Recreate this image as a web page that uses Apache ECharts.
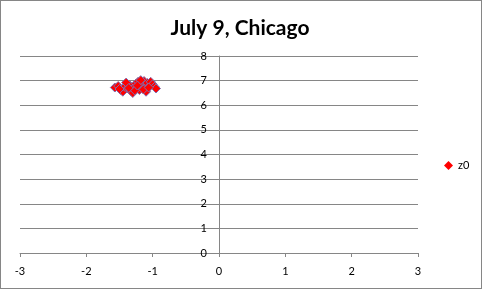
<!DOCTYPE html>
<html><head><meta charset="utf-8">
<script src="https://cdn.jsdelivr.net/npm/echarts@6/dist/echarts.min.js"></script>
<style>html,body{margin:0;padding:0;background:#fff}#c{box-sizing:border-box;border:1px solid #868686;width:482px;height:289px}</style>
</head><body><div id="c"></div>
<script>
const title = "July 9, Chicago";
const seriesName = "z0";
const xTicks = [-3, -2, -1, 0, 1, 2, 3];
const yTicks = [0, 1, 2, 3, 4, 5, 6, 7, 8];
const xValues = [-1.57,-1.52,-1.48,-1.45,-1.42,-1.38,-1.35,-1.33,-1.30,-1.28,-1.25,-1.22,-1.20,-1.18,-1.15,-1.13,-1.12,-1.10,-1.08,-1.05,-1.03,-1.00,-0.97,-0.95,-1.40,-1.27,-1.18,-1.50,-1.36,-1.23,-1.14,-1.06];
const yValues = [6.72,6.78,6.62,6.55,6.75,6.68,6.82,6.58,6.50,6.72,6.88,6.95,6.62,6.78,6.85,6.98,6.70,6.55,6.90,6.78,6.95,6.85,6.75,6.68,6.92,6.60,7.02,6.66,6.70,6.80,6.64,6.72];

const el = document.getElementById('c');
const chart = echarts.init(el);
const font = 'Lato, "Open Sans", sans-serif';
const gridLeft = 19, gridRight = 63;
const plotW = el.clientWidth - gridLeft - gridRight;
const xMin = xTicks[0], xMax = xTicks[xTicks.length-1];
const yAxisOffset = -plotW * (0 - xMin) / (xMax - xMin);
chart.setOption({
  animation: false,
  title: { text: title, left: 234, top: 12, textAlign: 'center',
    textStyle: { fontFamily: font, fontWeight: 'bold', fontSize: 21, color: '#000' } },
  legend: { orient: 'vertical', left: 438, top: 154, itemWidth: 9, itemHeight: 9, itemGap: 4,
    textStyle: { fontFamily: font, fontSize: 11, color: '#000' },
    data: [{ name: seriesName, icon: 'diamond', itemStyle: { color: '#ff0000', borderWidth: 0 } }] },
  grid: { left: gridLeft, right: gridRight, top: 55, bottom: 35, containLabel: false },
  xAxis: { type: 'value', min: xMin, max: xMax, interval: 1,
    splitLine: { show: false },
    axisLine: { onZero: false, lineStyle: { color: '#868686' } },
    axisTick: { show: true, inside: false, length: 4, lineStyle: { color: '#868686' } },
    axisLabel: { margin: 13, fontFamily: font, fontSize: 11, color: '#000' } },
  yAxis: { type: 'value', min: yTicks[0], max: yTicks[yTicks.length-1], interval: 1,
    position: 'left', offset: yAxisOffset,
    splitLine: { show: true, lineStyle: { color: '#868686', width: 1 } },
    axisLine: { show: true, onZero: false, lineStyle: { color: '#868686' } },
    axisTick: { show: false },
    axisLabel: { margin: 12, fontFamily: font, fontSize: 11, color: '#000' } },
  series: [{ name: seriesName, type: 'scatter', symbol: 'diamond', symbolSize: 9,
    itemStyle: { color: '#ff0000', borderColor: '#7f6fb0', borderWidth: 1, opacity: 1 },
    data: xValues.map((x, i) => [x, yValues[i]]) }]
});
</script></body></html>
